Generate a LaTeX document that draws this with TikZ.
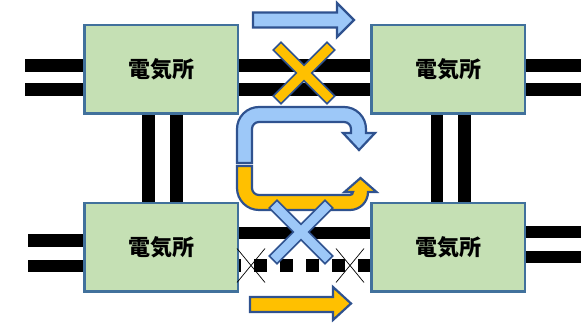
\documentclass[tikz,border=0pt]{standalone}
\usepackage{fontspec}
\newfontfamily\jpfont{Noto Sans CJK JP}
\usetikzlibrary{backgrounds}
\definecolor{boxgreen}{HTML}{C5E0B4}
\definecolor{boxedge}{HTML}{41719C}
\definecolor{flowblue}{HTML}{9DC8F8}
\definecolor{flowyellow}{HTML}{FFC000}
\definecolor{flowedge}{HTML}{2F528F}

\begin{document}
\begin{tikzpicture}[x=1pt, y=1pt,
  station/.style={draw=boxedge, line width=2.5pt, fill=boxgreen, minimum width=153.5pt, minimum height=88.5pt,
    font=\jpfont\bfseries\fontsize{22}{26}\selectfont},
  rail/.style={line width=12.5pt, black},
  brokenrail/.style={rail, dash pattern=on 13pt off 13pt, dash phase=11pt},
  flowarrow/.style={draw=flowedge, line width=2.2pt, line join=miter},
  bigx/.style={draw=flowedge, line width=1.8pt, double distance=9pt, line cap=rect},
  thinx/.style={black, line width=0.7pt},
]
\useasboundingbox (0,0) rectangle (581,323);

% Stations
\node[station] (TL) at (161,253.5) {電気所};
\node[station] (TR) at (448,253.5) {電気所};
\node[station] (BL) at (161,75.5) {電気所};
\node[station] (BR) at (448,75.5) {電気所};

% Lines
\begin{scope}[on background layer]
\draw[rail] ([yshift=4pt]TL.west) -- ++(-58,0);
\draw[rail] ([yshift=-20pt]TL.west) -- ++(-58,0);
\draw[rail] ([yshift=4pt]TL.east) -- ([yshift=4pt]TR.west);
\draw[rail] ([yshift=-20pt]TL.east) -- ([yshift=-20pt]TR.west);
\draw[rail] ([yshift=4pt]TR.east) -- ++(56,0);
\draw[rail] ([yshift=-20pt]TR.east) -- ++(56,0);

\draw[rail] ([xshift=-12.5pt]TL.south) -- ([xshift=-12.5pt]BL.north);
\draw[rail] ([xshift=15.5pt]TL.south) -- ([xshift=15.5pt]BL.north);
\draw[rail] ([xshift=-11pt]TR.south) -- ([xshift=-11pt]BR.north);
\draw[rail] ([xshift=16.5pt]TR.south) -- ([xshift=16.5pt]BR.north);

\draw[rail] ([yshift=7pt]BL.west) -- ++(-55,0);
\draw[rail] ([yshift=-18.5pt]BL.west) -- ++(-55,0);
\draw[rail] ([yshift=14.5pt]BL.east) -- ([yshift=14.5pt]BR.west);
\draw[brokenrail] ([yshift=-18pt]BL.east) -- ([yshift=-18pt]BR.west);
\draw[rail] ([yshift=15.5pt]BR.east) -- ++(56,0);
\draw[rail] ([yshift=-9.5pt]BR.east) -- ++(56,0);
\end{scope}

% Straight flows
\draw[flowarrow, fill=flowblue] (253,295.5) -- (337,295.5) -- (337,286) -- (354,303) -- (337,320)
  -- (337,310.5) -- (253,310.5) -- cycle;
\draw[flowarrow, fill=flowyellow] (250,11) -- (333,11) -- (333,3) -- (351,19.5) -- (333,36)
  -- (333,26) -- (250,26) -- cycle;

% Detour flows
\draw[flowarrow, fill=flowblue] (252,160) -- (237,160) -- (237,194) arc(180:90:22) -- (344,216)
  arc(90:0:22) -- (366,190) -- (375,190) -- (359,173) -- (343,190) -- (351,190) -- (351,194)
  arc(0:90:7) -- (259,201) arc(90:180:7) -- cycle;
\draw[flowarrow, fill=flowyellow] (237,157) -- (252,157) -- (252,135) arc(180:270:7) -- (350,128)
  arc(270:360:3) -- (344.5,131) -- (360.5,145) -- (376.5,131) -- (368,131) arc(0:-90:18)
  -- (259,113) arc(270:180:22) -- cycle;

% Cuts
\draw[bigx, double=flowyellow] (281,273) -- (327,227) (281,227) -- (327,273);
\draw[bigx, double=flowblue] (277,115) -- (325,67) (277,67) -- (325,115);
\draw[thinx] (237,74.5) -- (265,40.5) (237,40.5) -- (265,74.5);
\draw[thinx] (336,74.5) -- (364,40.5) (336,40.5) -- (364,74.5);

\end{tikzpicture}
\end{document}
